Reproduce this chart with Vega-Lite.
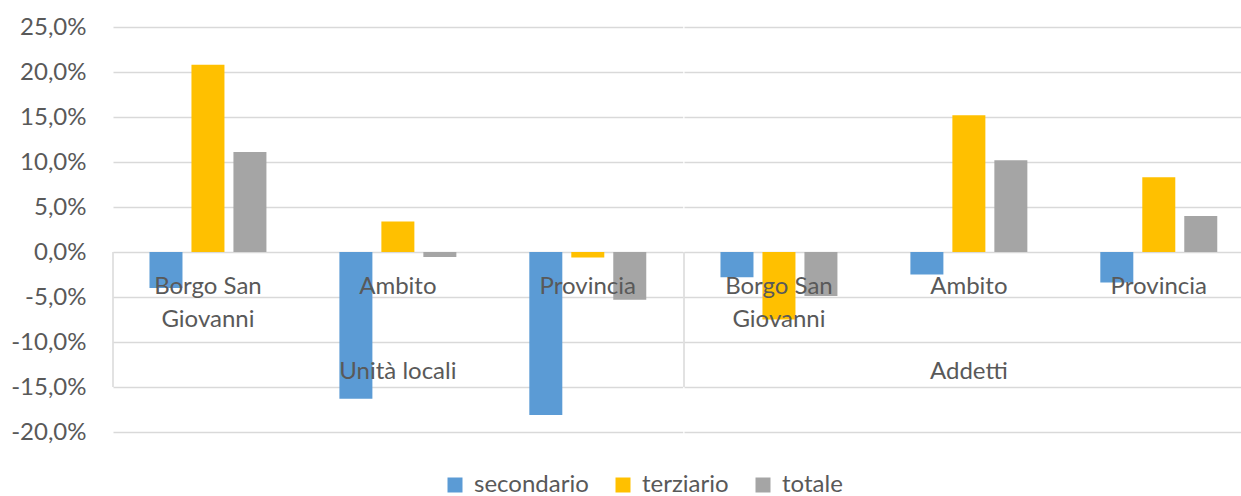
{
  "$schema": "https://vega.github.io/schema/vega-lite/v6.json",
  "padding": {"left": 10, "top": 15, "right": 0, "bottom": 0},
  "background": "white",
  "data": {"values": [
    {"gruppo": "Unità locali", "area": "Borgo San Giovanni", "settore": "secondario", "valore": -0.040},
    {"gruppo": "Unità locali", "area": "Borgo San Giovanni", "settore": "terziario", "valore": 0.208},
    {"gruppo": "Unità locali", "area": "Borgo San Giovanni", "settore": "totale", "valore": 0.111},
    {"gruppo": "Unità locali", "area": "Ambito", "settore": "secondario", "valore": -0.163},
    {"gruppo": "Unità locali", "area": "Ambito", "settore": "terziario", "valore": 0.034},
    {"gruppo": "Unità locali", "area": "Ambito", "settore": "totale", "valore": -0.0055},
    {"gruppo": "Unità locali", "area": "Provincia", "settore": "secondario", "valore": -0.181},
    {"gruppo": "Unità locali", "area": "Provincia", "settore": "terziario", "valore": -0.006},
    {"gruppo": "Unità locali", "area": "Provincia", "settore": "totale", "valore": -0.053},
    {"gruppo": "Addetti", "area": "Borgo San Giovanni", "settore": "secondario", "valore": -0.028},
    {"gruppo": "Addetti", "area": "Borgo San Giovanni", "settore": "terziario", "valore": -0.075},
    {"gruppo": "Addetti", "area": "Borgo San Giovanni", "settore": "totale", "valore": -0.049},
    {"gruppo": "Addetti", "area": "Ambito", "settore": "secondario", "valore": -0.025},
    {"gruppo": "Addetti", "area": "Ambito", "settore": "terziario", "valore": 0.152},
    {"gruppo": "Addetti", "area": "Ambito", "settore": "totale", "valore": 0.102},
    {"gruppo": "Addetti", "area": "Provincia", "settore": "secondario", "valore": -0.034},
    {"gruppo": "Addetti", "area": "Provincia", "settore": "terziario", "valore": 0.083},
    {"gruppo": "Addetti", "area": "Provincia", "settore": "totale", "valore": 0.040}
  ]},
  "facet": {
    "column": {
      "field": "gruppo",
      "type": "nominal",
      "sort": ["Unità locali", "Addetti"],
      "header": {"title": null, "labels": false, "labelPadding": 0, "titlePadding": 0}
    }
  },
  "spacing": 0,
  "spec": {
    "width": 569.75,
    "height": 405,
    "layer": [
      {
        "mark": {"type": "bar"},
        "encoding": {
          "x": {
            "field": "area",
            "type": "nominal",
            "sort": ["Borgo San Giovanni", "Ambito", "Provincia"],
            "scale": {"paddingInner": 0, "paddingOuter": 0},
            "axis": null
          },
          "xOffset": {
            "field": "settore",
            "type": "nominal",
            "sort": ["secondario", "terziario", "totale"],
            "scale": {"paddingInner": 0.214, "paddingOuter": 0.869}
          },
          "y": {
            "field": "valore",
            "type": "quantitative",
            "scale": {"domain": [-0.2, 0.25], "nice": false, "zero": false},
            "axis": {
              "title": null,
              "values": [-0.2, -0.15, -0.1, -0.05, 0, 0.05, 0.1, 0.15, 0.2, 0.25],
              "labelExpr": "replace(replace(format(datum.value, '.1%'), '.', ','), '\u2212', '-')",
              "domain": false,
              "ticks": false,
              "labelPadding": 26,
              "grid": true,
              "gridColor": "#D9D9D9",
              "gridWidth": 1.5
            }
          },
          "color": {
            "field": "settore",
            "type": "nominal",
            "sort": ["secondario", "terziario", "totale"],
            "scale": {"domain": ["secondario", "terziario", "totale"], "range": ["#5B9BD5", "#FFC000", "#A5A5A5"]},
            "legend": {
              "title": null,
              "orient": "none",
              "direction": "horizontal",
              "legendX": 330,
              "legendY": 446,
              "symbolType": "square",
              "symbolSize": 225,
              "symbolStrokeWidth": 0,
              "labelOffset": 7,
              "columnPadding": 22,
              "labelFontSize": 24,
              "labelColor": "#595959",
              "labelFont": "Lato"
            }
          }
        }
      },
      {
        "transform": [{"filter": "datum.settore == 'terziario'"}],
        "mark": {"type": "text", "baseline": "alphabetic", "align": "center", "dy": 42, "lineHeight": 33, "fontSize": 24, "font": "Lato", "color": "#595959"},
        "encoding": {
          "x": {"field": "area", "type": "nominal", "sort": ["Borgo San Giovanni", "Ambito", "Provincia"], "axis": null},
          "y": {"datum": 0, "type": "quantitative"},
          "text": {
            "condition": {"test": "datum.area == 'Borgo San Giovanni'", "value": ["Borgo San", "Giovanni"]},
            "field": "area",
            "type": "nominal"
          }
        }
      },
      {
        "transform": [{"filter": "datum.area == 'Ambito' && datum.settore == 'terziario'"}],
        "mark": {"type": "text", "baseline": "alphabetic", "align": "center", "dy": 127, "fontSize": 24, "font": "Lato", "color": "#595959"},
        "encoding": {
          "x": {"field": "area", "type": "nominal", "sort": ["Borgo San Giovanni", "Ambito", "Provincia"], "axis": null},
          "y": {"datum": 0, "type": "quantitative"},
          "text": {"field": "gruppo", "type": "nominal"}
        }
      },
      {
        "transform": [{"filter": "datum.area == 'Borgo San Giovanni' && datum.settore == 'secondario'"}],
        "mark": {"type": "rule", "color": "#D9D9D9", "strokeWidth": 1.5},
        "encoding": {
          "x": {"field": "area", "type": "nominal", "bandPosition": 0, "sort": ["Borgo San Giovanni", "Ambito", "Provincia"], "axis": null},
          "y": {"datum": 0, "type": "quantitative"},
          "y2": {"datum": -0.15}
        }
      }
    ]
  },
  "config": {
    "font": "Lato",
    "view": {"stroke": null},
    "axis": {"labelFont": "Lato", "labelFontSize": 24, "labelColor": "#595959"},
    "text": {"font": "Lato"}
  }
}
